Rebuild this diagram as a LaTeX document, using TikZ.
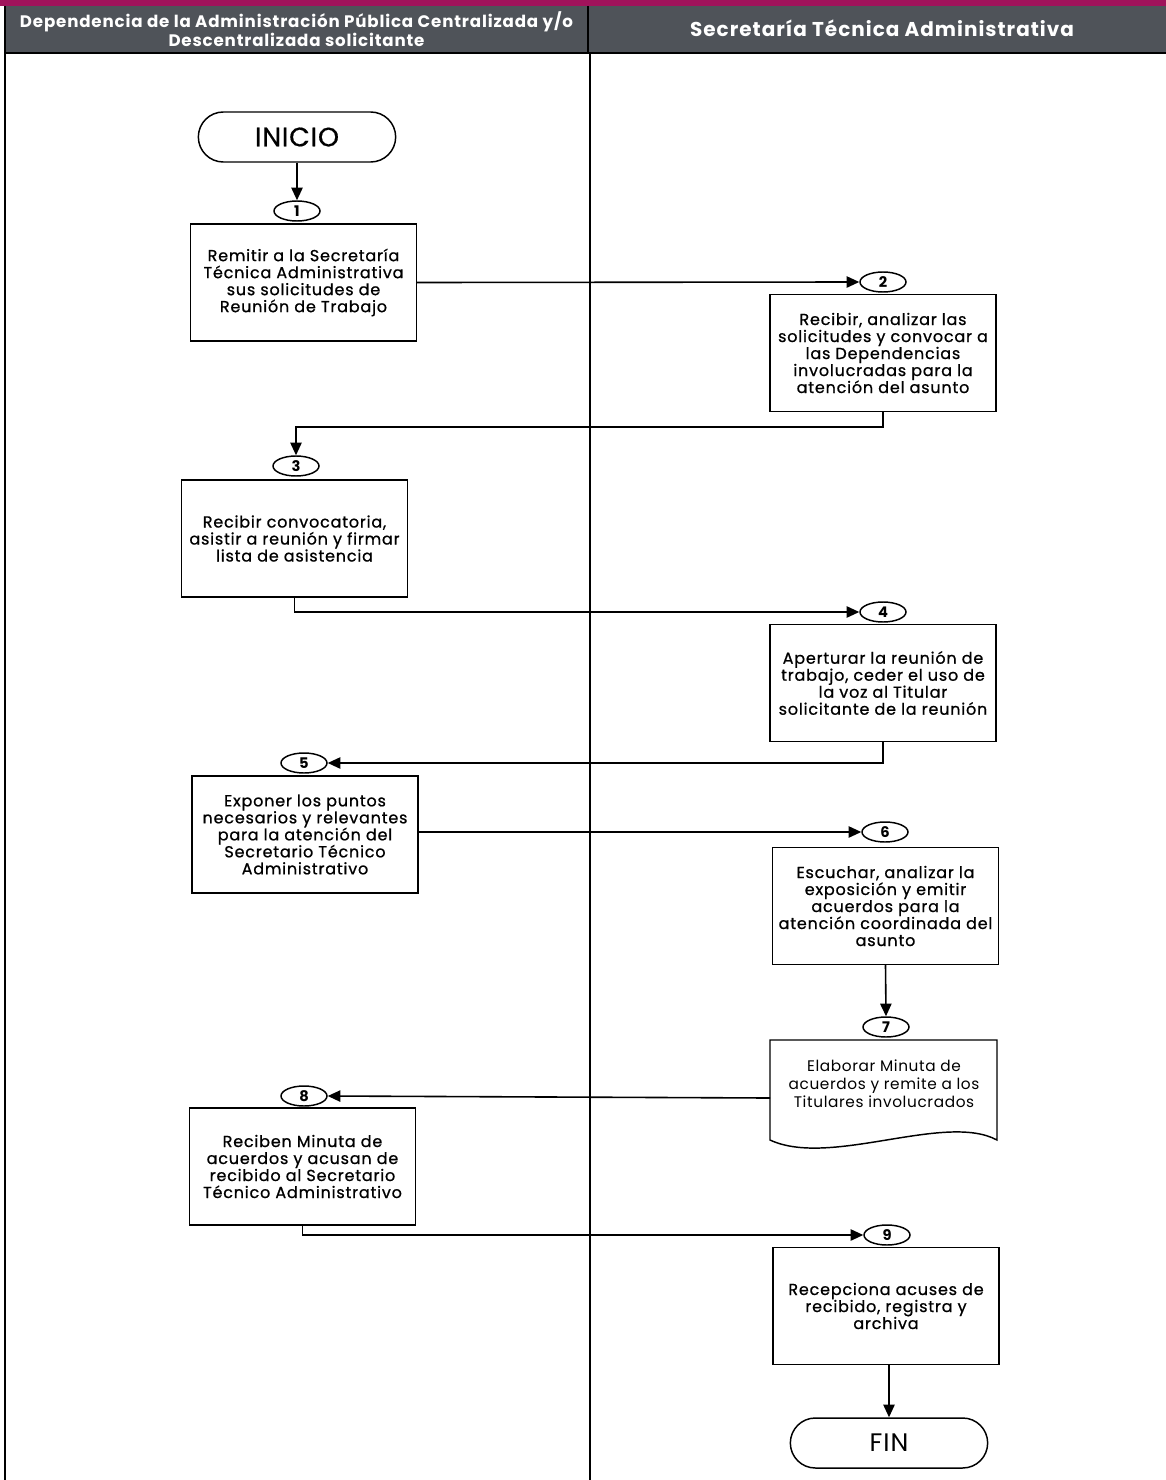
\documentclass[tikz,border=0pt]{standalone}
\usepackage{fontspec}
\setmainfont{Poppins}
\newfontfamily\medio{Poppins}[LetterSpace=5,FakeBold=0.8]
\newfontfamily\termfont{Poppins}[LetterSpace=3,FakeBold=0.6]
\newfontfamily\ligera{Poppins}[LetterSpace=4]
\newfontfamily\encab{Poppins}[LetterSpace=5]
\usepackage{tikz}
\usetikzlibrary{arrows.meta,shapes.geometric}

\definecolor{guinda}{HTML}{A0135B}
\definecolor{encabezado}{HTML}{4F5359}

\begin{document}
\begin{tikzpicture}[x=0.75pt,y=-0.75pt,
    line width=1.1pt,
    proc/.style={draw,fill=white,minimum width=169.5pt,minimum height=87.75pt,
      align=center,font=\medio\fontsize{12}{12.75}\selectfont,inner sep=1pt},
    num/.style={draw,ellipse,minimum width=34.5pt,minimum height=15pt,
      inner sep=0pt,font=\fontsize{11}{12}\selectfont\bfseries,fill=white},
    term/.style={draw,rounded corners=18.75pt,minimum width=148pt,minimum height=37.5pt,
      font=\termfont\fontsize{20}{22}\selectfont,fill=white},
    flecha/.style={-{Triangle[length=9.5pt,width=8.5pt]},line width=1.2pt}]

  \useasboundingbox (0,0) rectangle (1166,1480);

  % encabezado
  \fill[guinda] (0,0) rectangle (1166,6);
  \fill[encabezado] (5,6) rectangle (1166,53);
  \draw[line width=1pt] (5,53) -- (1166,53);
  \draw[line width=1pt] (5,6) -- (5,1480);
  \draw[line width=1pt] (588,6) -- (588,53);
  \draw[line width=1pt] (590,53) -- (590,1480);
  \node[text=white,align=center,font=\encab\fontsize{12.5}{12.5}\selectfont\bfseries] (carrilA)
    at (296.5,29) {Dependencia de la Administración Pública Centralizada y/o\\Descentralizada solicitante};
  \node[text=white,font=\encab\fontsize{15}{16}\selectfont\bfseries] (carrilB)
    at (882,28) {Secretaría Técnica Administrativa};

  % nodos
  \node[term] (inicio) at (297,137) {INICIO};
  \node[num] (n1) at (297,211) {1};
  \node[proc] (p1) at (303.5,282.5) {Remitir a la Secretaría\\Técnica Administrativa\\sus solicitudes de\\Reunión de Trabajo};
  \node[num] (n2) at (883,282) {2};
  \node[proc] (p2) at (883,353) {Recibir, analizar las\\solicitudes y convocar a\\las Dependencias\\involucradas para la\\atención del asunto};
  \node[num] (n3) at (296,466) {3};
  \node[proc] (p3) at (294.5,538.5) {Recibir convocatoria,\\asistir a reunión y firmar\\lista de asistencia};
  \node[num] (n4) at (883,612) {4};
  \node[proc] (p4) at (883,683) {Aperturar la reunión de\\trabajo, ceder el uso de\\la voz al Titular\\solicitante de la reunión};
  \node[num] (n5) at (304,763) {5};
  \node[proc] (p5) at (305,834.5) {Exponer los puntos\\necesarios y relevantes\\para la atención del\\Secretario Técnico\\Administrativo};
  \node[num] (n6) at (885,832) {6};
  \node[proc] (p6) at (885.5,906) {Escuchar, analizar la\\exposición y emitir\\acuerdos para la\\atención coordinada del\\asunto};
  \node[num] (n7) at (886,1027) {7};
  \draw[fill=white] (770,1040) -- (997,1040) -- (997,1140)
    .. controls (945,1112) and (830,1168) .. (770,1140) -- cycle;
  \node[align=center,font=\ligera\fontsize{11.5}{13.5}\selectfont] (p7) at (884,1084) {Elaborar Minuta de\\acuerdos y remite a los\\Titulares involucrados};
  \coordinate (s7) at (770,1098);
  \node[num] (n8) at (304,1096) {8};
  \node[proc] (p8) at (302.5,1166.5) {Reciben Minuta de\\acuerdos y acusan de\\recibido al Secretario\\Técnico Administrativo};
  \node[num] (n9) at (887,1235) {9};
  \node[proc] (p9) at (886,1306) {Recepciona acuses de\\recibido, registra y\\archiva};
  \node[term,font=\ligera\fontsize{19}{20}\selectfont] (fin) at (889,1443) {FIN};

  % conectores
  \draw[flecha] (inicio) -- (n1);
  \draw[flecha] (p1.east) -- (n2.west);
  \draw[flecha] (p2.south) |- (590,427) -| (n3.north);
  \draw[flecha] (p3.south) |- (n4.west);
  \draw[flecha] (p4.south) |- (n5.east);
  \draw[flecha] (p5.east |- n6) -- (n6.west);
  \draw[flecha] (p6.south) -- (n7.north);
  \draw[flecha] (s7) -- (n8.east);
  \draw[flecha] (p8.south) |- (n9.west);
  \draw[flecha] (p9.south -| fin.north) -- (fin.north);
\end{tikzpicture}
\end{document}
